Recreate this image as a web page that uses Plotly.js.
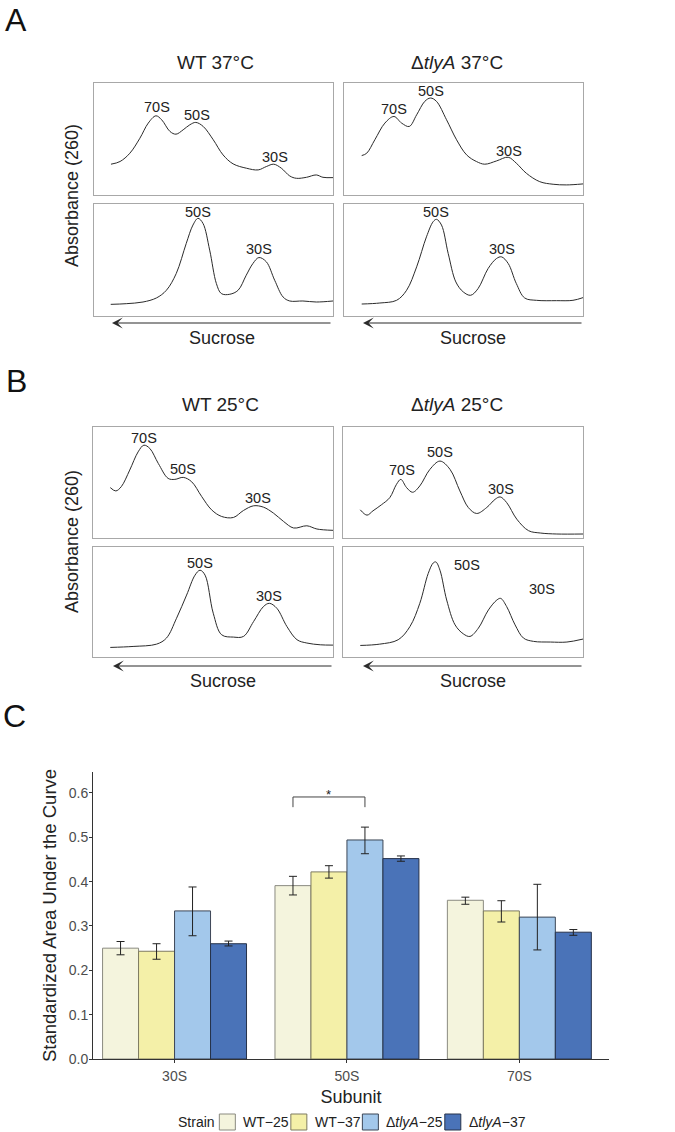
<!DOCTYPE html>
<html><head><meta charset="utf-8">
<script src="https://cdn.plot.ly/plotly-3.0.1.min.js"></script>
<style>html,body{margin:0;padding:0;background:#fff}#chart{width:675px;height:1132px}</style>
</head><body><div id="chart"></div>
<script>
// ---------- Panel C data ----------
const subunits = ['30S', '50S', '70S'];
const strainNames = ['WT−25', 'WT−37', 'Δ<i>tlyA</i>−25', 'Δ<i>tlyA</i>−37'];
const strainPlain = ['WT−25', 'WT−37', 'ΔtlyA−25', 'ΔtlyA−37'];
const aucWT25  = [0.250, 0.391, 0.358];
const aucWT37  = [0.243, 0.422, 0.334];
const aucTly25 = [0.334, 0.494, 0.320];
const aucTly37 = [0.260, 0.452, 0.286];
const upperWT25  = [0.265, 0.412, 0.365];
const lowerWT25  = [0.235, 0.370, 0.349];
const upperWT37  = [0.260, 0.436, 0.357];
const lowerWT37  = [0.225, 0.408, 0.309];
const upperTly25 = [0.388, 0.523, 0.394];
const lowerTly25 = [0.278, 0.463, 0.246];
const upperTly37 = [0.266, 0.458, 0.292];
const lowerTly37 = [0.255, 0.446, 0.279];
const yTicks = [0, 0.1, 0.2, 0.3, 0.4, 0.5, 0.6];
// significance: 50S, WT-25 vs ΔtlyA-25
const sigSubunit = '50S', sigFrom = 0, sigTo = 2, sigTop = 0.591, sigLow = 0.568, sigMark = '*';

// ---------- Panels A/B: sucrose gradient profiles (position %, relative A260) ----------
const wt37TotX = [7.1,10.9,15.0,19.2,22.7,25.9,28.3,31.8,34.3,37.3,40.1,42.6,45.7,49.9,54.0,58.2,63.8,68.7,72.1,75.2,78.4,81.9,84.7,88.9,93.0,95.8,100];
const wt37TotY = [27.5,29.9,37.3,50.7,64.2,70.7,67.2,56.7,54.3,58.2,62.7,64.8,61.2,49.3,35.8,27.8,23.9,22.4,25.4,27.5,23.9,17.0,14.9,15.8,17.9,15.8,15.5];
const wt37SubX = [7.0,13.5,20.5,26.1,30.3,34.4,38.6,41.4,43.5,45.6,48.4,51.2,53.3,56.8,60.3,63.7,66.5,69.0,72.1,75.6,79.1,81.9,87.4,93.0,100];
const wt37SubY = [10.4,11.0,12.5,16.1,23.0,37.9,64.8,81.2,87.2,82.7,58.8,29.0,20.0,19.4,23.0,36.4,46.9,52.2,48.4,31.9,17.0,13.4,13.4,12.5,13.4];
const tly37TotX = [7.4,9.5,12.9,17.1,20.9,24.1,27.3,30.4,33.8,36.2,38.7,42.9,47.1,51.3,55.4,58.9,63.8,68.7,72.1,76.3,81.9,87.5,93.0,100];
const tly37TotY = [35.2,37.3,49.3,64.2,70.1,64.2,61.2,71.6,83.6,86.6,83.6,67.2,49.3,35.8,29.9,27.5,30.4,33.7,28.4,19.4,11.9,9.6,9.0,9.9];
const tly37SubX = [7.4,15.0,22.0,26.2,30.4,34.5,37.3,38.7,40.8,43.6,46.8,49.9,53.0,56.1,60.3,63.8,65.9,68.7,72.1,75.6,80.5,88.9,95.8,100];
const tly37SubY = [10.7,11.6,14.0,23.0,43.9,70.7,84.2,86.3,81.2,55.8,30.4,21.5,18.5,24.5,42.4,51.3,52.8,46.9,29.0,16.1,14.0,13.7,14.0,16.4];
const wt25TotX = [7.2,9.5,11.8,15.3,18.8,21.2,23.7,27.2,31.3,34.1,37.6,41.1,45.3,49.4,53.6,58.5,62.7,66.9,71.0,75.2,79.4,83.6,89.1,93.3,100];
const wt25TotY = [45.4,42.4,46.3,61.2,77.6,83.6,80.6,67.2,53.7,52.8,54.6,50.7,37.3,25.4,19.4,18.5,24.8,29.0,27.8,22.4,14.9,9.0,11.0,8.1,6.9];
const wt25SubX = [7.2,16.7,26.5,30.6,34.8,39.0,42.5,44.6,46.7,50.1,53.6,58.5,62.7,66.9,71.0,73.5,76.6,80.8,85.0,89.1,94.7,100];
const wt25SubY = [8.7,9.6,11.7,17.2,35.2,56.3,74.4,78.9,74.4,39.8,20.2,18.1,18.7,32.2,45.8,48.8,44.3,27.7,15.7,12.7,11.1,10.8];
const tly25TotX = [7.2,10.0,12.5,16.0,19.5,22.3,24.1,26.5,29.0,32.0,36.2,40.4,44.6,48.7,52.2,55.7,59.9,63.4,65.5,68.2,72.4,77.3,82.2,89.1,100];
const tly25TotY = [25.4,20.6,24.5,29.9,36.4,48.4,52.8,45.4,41.2,46.9,61.8,69.3,61.8,42.4,27.5,22.1,27.5,34.9,37.0,31.9,17.0,6.6,4.5,3.6,3.6];
const tly25SubX = [7.2,15.3,23.0,27.9,32.0,35.5,37.6,38.7,40.4,43.2,46.7,50.1,52.9,56.4,60.6,64.1,65.7,68.2,71.7,75.2,79.4,86.4,93.3,100];
const tly25SubY = [10.5,11.7,15.7,27.7,48.8,75.9,85.5,86.4,78.9,51.8,29.2,21.1,18.7,26.2,42.8,51.8,53.3,45.8,29.2,17.2,14.2,13.6,13.6,16.3];

const panelTitles = ['WT 37°C', 'Δ<i>tlyA</i> 37°C', 'WT 25°C', 'Δ<i>tlyA</i> 25°C'];

// ---------- layout helpers ----------
const W = 675, H = 1132;
const FONT = 'Liberation Sans, Arial, Helvetica, sans-serif';
const px = v => v / W;
const py = v => 1 - v / H;

const panels = [
  {x: wt37TotX, y: wt37TotY, box: [94, 333, 83, 195],  peaks: [['70S', 26.2, 78.8], ['50S', 42.9, 71.6], ['30S', 75.6, 33.7]]},
  {x: wt37SubX, y: wt37SubY, box: [94, 333, 204, 316], peaks: [['50S', 43.5, 93.1], ['30S', 69.0, 59.4]]},
  {x: tly37TotX, y: tly37TotY, box: [344, 583, 83, 195], peaks: [['70S', 20.9, 77.0], ['50S', 36.2, 92.5], ['30S', 68.9, 39.4]]},
  {x: tly37SubX, y: tly37SubY, box: [344, 583, 204, 316], peaks: [['50S', 38.7, 93.1], ['30S', 65.9, 59.4]]},
  {x: wt25TotX, y: wt25TotY, box: [93, 333, 427, 538], peaks: [['70S', 21.2, 90.1], ['50S', 37.6, 61.8], ['30S', 68.9, 35.8]]},
  {x: wt25SubX, y: wt25SubY, box: [93, 333, 547, 657], peaks: [['50S', 44.6, 85.5], ['30S', 73.5, 55.4]]},
  {x: tly25TotX, y: tly25TotY, box: [343, 583, 427, 538], peaks: [['70S', 24.4, 60.9], ['50S', 40.4, 77.3], ['30S', 65.7, 43.9]]},
  {x: tly25SubX, y: tly25SubY, box: [343, 583, 547, 657], peaks: [['50S', 51.8, 84.0], ['30S', 83.0, 61.4]]}
];

const data = [];
const layout = {
  width: W, height: H,
  margin: {l: 0, r: 0, t: 0, b: 0},
  paper_bgcolor: '#fff', plot_bgcolor: 'rgba(0,0,0,0)',
  font: {family: FONT, color: '#222'},
  showlegend: false,
  barmode: 'group', bargap: 0.165, bargroupgap: 0,
  annotations: [], shapes: []
};

panels.forEach((p, i) => {
  const n = i + 1;
  const xr = 'x' + n, yr = 'y' + n;
  const [l, r, t, b] = p.box;
  const common = {range: [0, 100], showgrid: false, zeroline: false, showticklabels: false, ticks: '',
    showline: true, mirror: 'all', linecolor: '#a8a8a8', linewidth: 1, fixedrange: true};
  layout['xaxis' + n] = Object.assign({domain: [px(l), px(r)], anchor: yr}, common);
  layout['yaxis' + n] = Object.assign({domain: [py(b), py(t)], anchor: xr}, common);
  data.push({type: 'scatter', mode: 'lines', x: p.x, y: p.y, xaxis: xr, yaxis: yr,
    line: {color: '#2b2b2b', width: 1, shape: 'spline', smoothing: 1}, showlegend: false, hoverinfo: 'skip'});
  p.peaks.forEach(([txt, X, Y]) => {
    layout.annotations.push({text: txt, x: X, y: Y, xref: xr, yref: yr, showarrow: false,
      xanchor: 'center', yanchor: 'middle', font: {size: 14.5, color: '#222', family: FONT}});
  });
});

[[215, 63], [457, 63], [220, 404], [457, 404]].forEach(([x, y], i) => {
  layout.annotations.push({text: panelTitles[i], x: px(x), y: py(y), xref: 'paper', yref: 'paper',
    showarrow: false, xanchor: 'center', yanchor: 'middle', font: {size: 19, color: '#222', family: FONT}});
});
[196, 542].forEach(y => {
  layout.annotations.push({text: 'Absorbance (260)', x: px(72), y: py(y), xref: 'paper', yref: 'paper',
    showarrow: false, textangle: -90, xanchor: 'center', yanchor: 'middle', font: {size: 18, color: '#222', family: FONT}});
});
[[112, 332, 323, 338], [363, 583, 323, 338], [113, 333, 666, 681], [363, 583, 666, 681]].forEach(([x0, x1, ya, yt]) => {
  layout.annotations.push({text: '', x: px(x0), y: py(ya), xref: 'paper', yref: 'paper', showarrow: true,
    ax: x1 - x0, ay: 0, axref: 'pixel', ayref: 'pixel', arrowhead: 3, arrowsize: 1.5, arrowwidth: 1.2,
    arrowcolor: '#2b2b2b', standoff: 0, startstandoff: 0});
  layout.annotations.push({text: 'Sucrose', x: px((x0 + x1) / 2), y: py(yt), xref: 'paper', yref: 'paper',
    showarrow: false, xanchor: 'center', yanchor: 'middle', font: {size: 18, color: '#222', family: FONT}});
});
[['A', 16, 20], ['B', 16, 381], ['C', 14, 716]].forEach(([t, x, y]) => {
  layout.annotations.push({text: t, x: px(x), y: py(y), xref: 'paper', yref: 'paper', showarrow: false,
    xanchor: 'center', yanchor: 'middle', font: {size: 32, color: '#111', family: FONT}});
});

// ---------- Panel C bar chart ----------
const xIdx = subunits.map((s, i) => i);
const fills = ['#F4F4DD', '#F4F0A8', '#A3C8EB', '#4A73B8'];
const edges = ['#8a8a80', '#7d7a60', '#3c4656', '#26324a'];
const series = [
  [aucWT25, upperWT25, lowerWT25],
  [aucWT37, upperWT37, lowerWT37],
  [aucTly25, upperTly25, lowerTly25],
  [aucTly37, upperTly37, lowerTly37]
];
series.forEach(([v, up, lo], k) => {
  data.push({type: 'bar', name: strainNames[k], x: xIdx, y: v, xaxis: 'x9', yaxis: 'y9',
    marker: {color: fills[k], line: {color: edges[k], width: 1}},
    error_y: {type: 'data', symmetric: false, array: up.map((u, j) => u - v[j]), arrayminus: lo.map((m, j) => v[j] - m),
      color: '#222', thickness: 1, width: 4},
    hoverinfo: 'skip', showlegend: false});
});
layout.xaxis9 = {domain: [px(93), px(609)], range: [-0.473, 2.52], anchor: 'y9', tickvals: xIdx, ticktext: subunits,
  showgrid: false, zeroline: false, showline: true, linecolor: '#333', linewidth: 1, ticks: 'outside', ticklen: 3,
  tickcolor: '#333', tickfont: {size: 14, color: '#4d4d4d', family: FONT}, ticklabelstandoff: 1,
  title: {text: 'Subunit', font: {size: 18, color: '#222', family: FONT}, standoff: 7}, fixedrange: true};
layout.yaxis9 = {domain: [py(1059), py(771.7)], range: [0, 0.648], anchor: 'x9', tickvals: yTicks, tickformat: '.1f',
  showgrid: false, zeroline: false, showline: true, linecolor: '#333', linewidth: 1, ticks: 'outside', ticklen: 3,
  tickcolor: '#333', tickfont: {size: 14, color: '#4d4d4d', family: FONT}, ticklabelstandoff: -2, fixedrange: true};
layout.annotations.push({text: 'Standardized Area Under the Curve', x: px(49), y: py(916), xref: 'paper', yref: 'paper',
  showarrow: false, textangle: -90, xanchor: 'center', yanchor: 'middle', font: {size: 18.5, color: '#222', family: FONT}});

// significance bracket
const groupW = 1 - layout.bargap;
const barOff = k => (k - 1.5) * groupW / series.length;
const sx = subunits.indexOf(sigSubunit);
const bx0 = sx + barOff(sigFrom), bx1 = sx + barOff(sigTo);
layout.shapes.push({type: 'path', xref: 'x9', yref: 'y9',
  path: `M${bx0},${sigLow}L${bx0},${sigTop}L${bx1},${sigTop}L${bx1},${sigLow}`,
  line: {color: '#444', width: 1}});
layout.annotations.push({text: sigMark, x: (bx0 + bx1) / 2, y: sigTop + 0.006, xref: 'x9', yref: 'y9', showarrow: false,
  xanchor: 'center', yanchor: 'middle', font: {size: 13, color: '#222', family: FONT}});

// ---------- legend (ggplot style: title + keys in one row) ----------
const ctx = document.createElement('canvas').getContext('2d');
ctx.font = '14px ' + FONT;
const legendY = 1122, keySize = 16, keyGap = 7, afterText = 3, titleGap = 6;
const titleW = ctx.measureText('Strain').width;
const itemsW = strainPlain.map(s => keySize + keyGap + ctx.measureText(s).width + afterText);
const totalW = titleW + titleGap + itemsW.reduce((a, b) => a + b, 0);
let cx = 352 - totalW / 2;
layout.annotations.push({text: 'Strain', x: px(cx), y: py(legendY), xref: 'paper', yref: 'paper', showarrow: false,
  xanchor: 'left', yanchor: 'middle', font: {size: 14, color: '#222', family: FONT}, borderpad: 0});
cx += titleW + titleGap;
strainNames.forEach((name, k) => {
  layout.shapes.push({type: 'rect', xref: 'paper', yref: 'paper', x0: px(cx), x1: px(cx + keySize),
    y0: py(legendY + keySize / 2), y1: py(legendY - keySize / 2), fillcolor: fills[k], line: {color: edges[k], width: 1}});
  layout.annotations.push({text: name, x: px(cx + keySize + keyGap), y: py(legendY), xref: 'paper', yref: 'paper',
    showarrow: false, xanchor: 'left', yanchor: 'middle', font: {size: 14, color: '#222', family: FONT}, borderpad: 0});
  cx += itemsW[k];
});

Plotly.newPlot('chart', data, layout, {displayModeBar: false, staticPlot: true});
</script></body></html>
